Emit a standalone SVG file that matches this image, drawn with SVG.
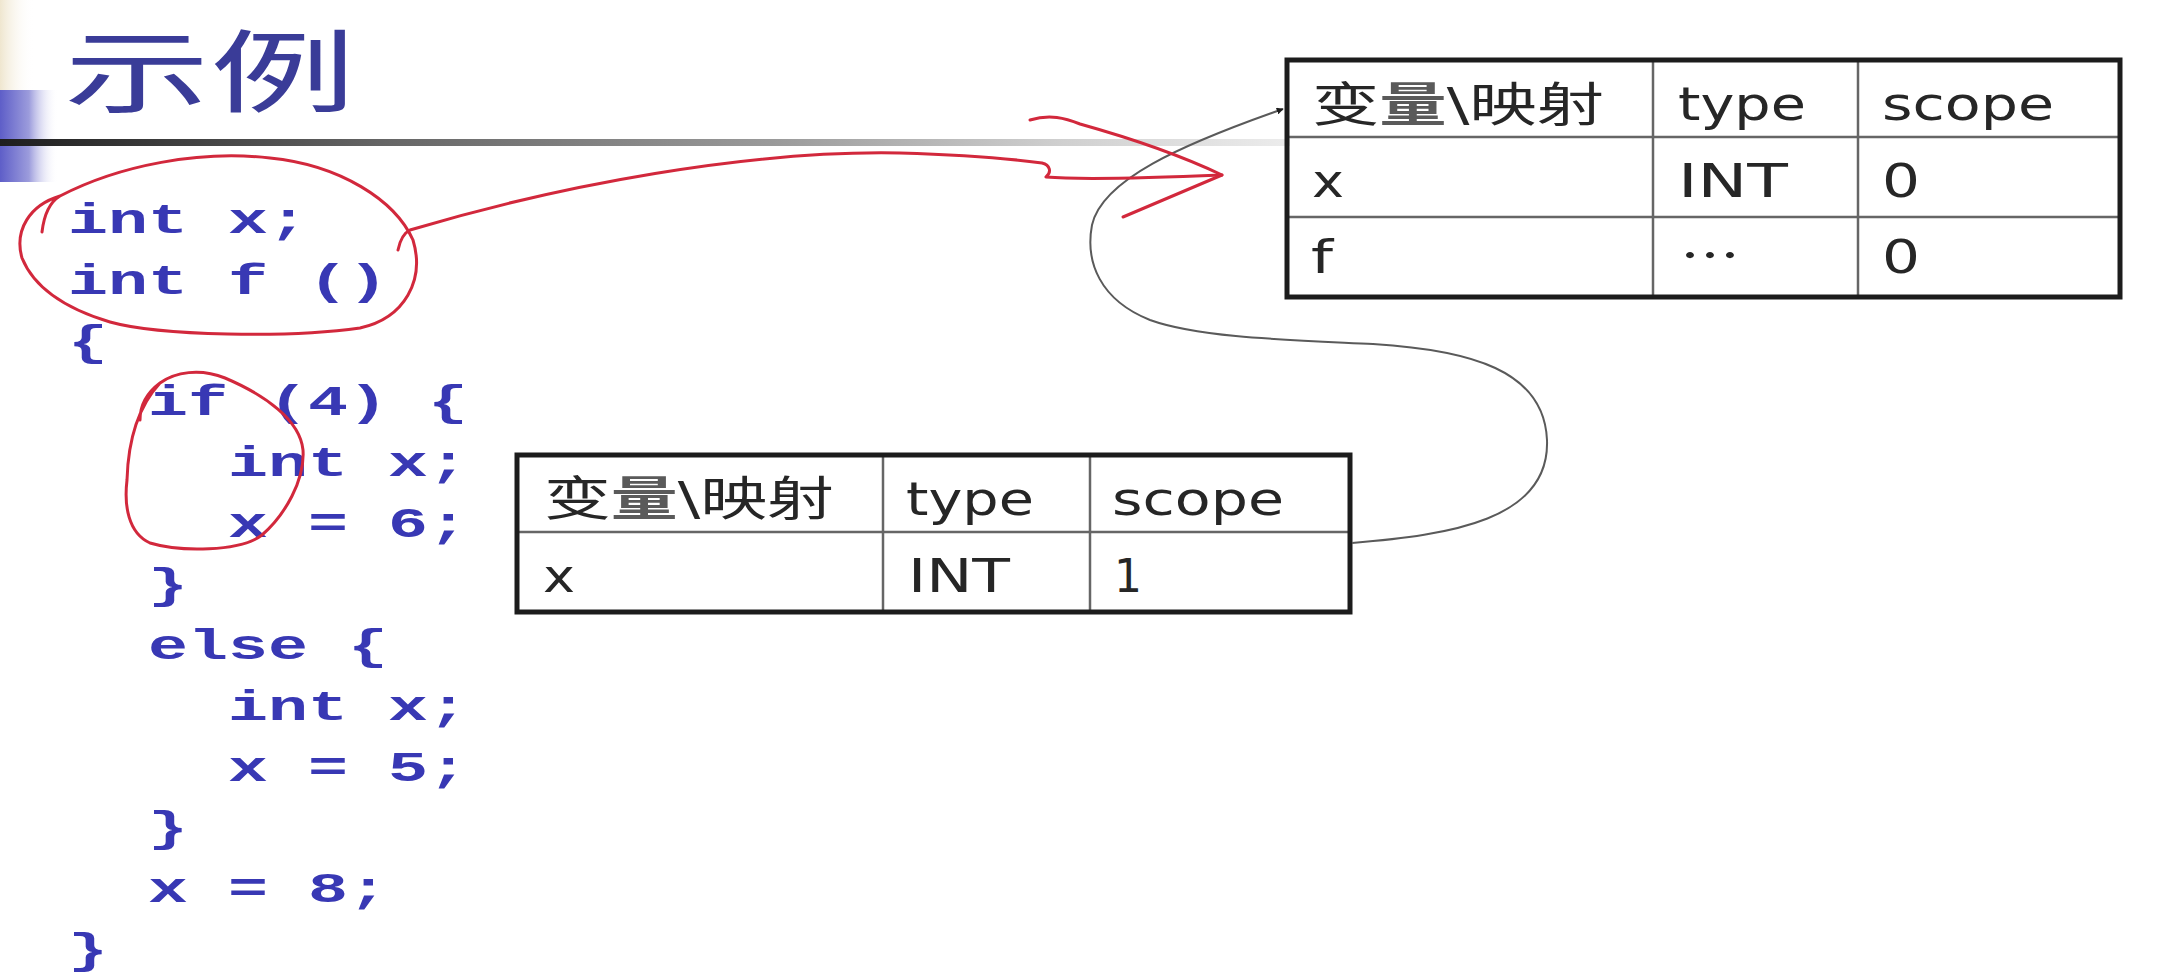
<svg xmlns="http://www.w3.org/2000/svg" width="2162" height="976" viewBox="0 0 2162 976">
<style>
.code{font-family:"Liberation Mono","DejaVu Sans Mono",monospace;font-weight:bold;font-size:42px;fill:#3838b4}
.cell{font-family:"DejaVu Sans","Noto Sans CJK SC",sans-serif;font-size:47px;fill:#262626}
.cjk{font-family:"Noto Sans CJK SC",sans-serif;font-size:47px;fill:#262626}
.outer{fill:none;stroke:#1c1c1c;stroke-width:5}
.inner{stroke:#666;stroke-width:2.5}
.red{fill:none;stroke:#d2283c;stroke-width:3;stroke-linecap:round;stroke-linejoin:round}
.conn{fill:none;stroke:#5a5a5a;stroke-width:2}
</style>
<defs>
<linearGradient id="hline" x1="0" y1="0" x2="1" y2="0">
<stop offset="0" stop-color="#1e1e1e"/>
<stop offset="0.3" stop-color="#666"/>
<stop offset="0.6" stop-color="#9a9a9a"/>
<stop offset="0.82" stop-color="#cfcfcf"/>
<stop offset="1" stop-color="#ececec"/>
</linearGradient>
<linearGradient id="bar" x1="0" y1="0" x2="1" y2="0">
<stop offset="0" stop-color="#5e5ec8"/>
<stop offset="0.5" stop-color="#9c9cdc"/>
<stop offset="1" stop-color="#ffffff" stop-opacity="0"/>
</linearGradient>
<linearGradient id="beige" x1="0" y1="0" x2="1" y2="0">
<stop offset="0" stop-color="#efe6cf"/>
<stop offset="1" stop-color="#ffffff" stop-opacity="0"/>
</linearGradient>
<marker id="arrow" viewBox="0 0 10 10" refX="9" refY="5" markerWidth="7" markerHeight="7" markerUnits="userSpaceOnUse" orient="auto">
<path d="M0,0 L10,5 L0,10 z" fill="#1c1c1c"/>
</marker>
</defs>
<rect width="2162" height="976" fill="#ffffff"/>

<g id="slide-decoration">
<rect x="0" y="0" width="34" height="90" fill="url(#beige)"/>
<rect x="0" y="90" width="58" height="92" fill="url(#bar)"/>
<rect x="0" y="139" width="1290" height="7" fill="url(#hline)"/>
</g>

<g id="title">
<text x="64" y="105" font-family="'Noto Sans CJK SC',sans-serif" font-size="90" fill="#3a3c98" textLength="292" lengthAdjust="spacingAndGlyphs">示例</text>
</g>

<g id="code">
<text class="code" x="68" y="233" textLength="240" lengthAdjust="spacingAndGlyphs">int x;</text>
<text class="code" x="68" y="294" textLength="320" lengthAdjust="spacingAndGlyphs">int f ()</text>
<text class="code" x="68" y="355" textLength="40" lengthAdjust="spacingAndGlyphs">{</text>
<text class="code" x="148" y="415" textLength="320" lengthAdjust="spacingAndGlyphs">if (4) {</text>
<text class="code" x="228" y="476" textLength="240" lengthAdjust="spacingAndGlyphs">int x;</text>
<text class="code" x="228" y="537" textLength="240" lengthAdjust="spacingAndGlyphs">x = 6;</text>
<text class="code" x="148" y="598" textLength="40" lengthAdjust="spacingAndGlyphs">}</text>
<text class="code" x="148" y="659" textLength="240" lengthAdjust="spacingAndGlyphs">else {</text>
<text class="code" x="228" y="720" textLength="240" lengthAdjust="spacingAndGlyphs">int x;</text>
<text class="code" x="228" y="781" textLength="240" lengthAdjust="spacingAndGlyphs">x = 5;</text>
<text class="code" x="148" y="841" textLength="40" lengthAdjust="spacingAndGlyphs">}</text>
<text class="code" x="148" y="902" textLength="240" lengthAdjust="spacingAndGlyphs">x = 8;</text>
<text class="code" x="68" y="963" textLength="40" lengthAdjust="spacingAndGlyphs">}</text>
</g>

<g id="table-global">
<line class="inner" x1="1287" y1="137" x2="2120" y2="137"/>
<line class="inner" x1="1287" y1="217" x2="2120" y2="217"/>
<line class="inner" x1="1653" y1="60" x2="1653" y2="297"/>
<line class="inner" x1="1858" y1="60" x2="1858" y2="297"/>
<rect class="outer" x="1287" y="60" width="833" height="237"/>
<text class="cell" x="1312" y="121" textLength="292" lengthAdjust="spacingAndGlyphs">变<tspan fill="#5a5a5a" font-weight="bold">量</tspan>\映射</text>
<text class="cell" x="1678" y="120" textLength="128" lengthAdjust="spacingAndGlyphs">type</text>
<text class="cell" x="1882" y="120" textLength="172" lengthAdjust="spacingAndGlyphs">scope</text>
<text class="cell" x="1312" y="197" textLength="32" lengthAdjust="spacingAndGlyphs">x</text>
<text class="cell" x="1678" y="197" textLength="110" lengthAdjust="spacingAndGlyphs">INT</text>
<text class="cell" x="1882" y="197" textLength="38" lengthAdjust="spacingAndGlyphs">0</text>
<text class="cell" x="1311" y="273" textLength="22" lengthAdjust="spacingAndGlyphs">f</text>
<text class="cjk" x="1680" y="273" textLength="60" lengthAdjust="spacingAndGlyphs">…</text>
<text class="cell" x="1882" y="273" textLength="38" lengthAdjust="spacingAndGlyphs">0</text>
</g>

<g id="table-local">
<line class="inner" x1="517" y1="532" x2="1350" y2="532"/>
<line class="inner" x1="883" y1="455" x2="883" y2="612"/>
<line class="inner" x1="1090" y1="455" x2="1090" y2="612"/>
<rect class="outer" x="517" y="455" width="833" height="157"/>
<text class="cell" x="544" y="515" textLength="290" lengthAdjust="spacingAndGlyphs">变<tspan fill="#5a5a5a" font-weight="bold">量</tspan>\映射</text>
<text class="cell" x="906" y="515" textLength="128" lengthAdjust="spacingAndGlyphs">type</text>
<text class="cell" x="1112" y="515" textLength="172" lengthAdjust="spacingAndGlyphs">scope</text>
<text class="cell" x="543" y="592" textLength="32" lengthAdjust="spacingAndGlyphs">x</text>
<text class="cell" x="908" y="592" textLength="102" lengthAdjust="spacingAndGlyphs">INT</text>
<text class="cell" x="1114" y="592" textLength="28" lengthAdjust="spacingAndGlyphs">1</text>
</g>

<g id="connectors">
<path class="conn" marker-end="url(#arrow)" d="M1352,543 C1450,535 1550,520 1547,440 C1544,370 1470,350 1373,344 C1290,340 1200,338 1150,320 C1100,300 1085,262 1092,225 C1102,180 1180,145 1283,109"/>
</g>

<g id="annotations">
<path class="red" d="M42,232 C44,215 50,202 60,196 C120,165 200,150 270,158 C340,165 395,200 413,240 C425,280 405,318 360,328 C290,338 160,336 110,322 C70,310 35,290 22,258 C14,230 30,205 60,196"/>
<path class="red" d="M398,250 C400,240 404,233 410,230 C560,185 750,150 900,153 C970,155 1020,160 1042,163 C1050,165 1052,172 1046,177 C1080,180 1150,178 1222,175"/>
<path class="red" d="M1030,120 C1050,114 1065,118 1080,124 C1130,138 1180,155 1222,175 L1123,217"/>
<path class="red" d="M140,420 C140,405 148,392 160,383 C175,372 200,368 225,378 C265,395 300,420 303,450 C305,480 285,515 262,535 C240,552 180,552 150,543 C128,533 124,505 127,480 C128,445 135,410 160,383"/>
</g>
</svg>
